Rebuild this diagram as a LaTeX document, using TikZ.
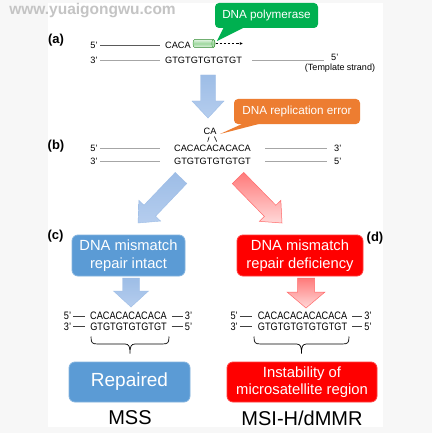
\documentclass[tikz,border=0pt]{standalone}
\usepackage{fontspec}
\setmainfont{Liberation Sans}
\newfontfamily\narrowsf[FakeStretch=0.85]{Liberation Sans}
\usetikzlibrary{calc,arrows.meta}
\definecolor{bgray}{HTML}{F7F7F7}
\definecolor{gboxc}{HTML}{00B050}
\definecolor{oboxc}{HTML}{ED7D31}
\definecolor{bboxc}{HTML}{5B9BD5}
\definecolor{rboxc}{HTML}{FF0000}
\definecolor{arrblueA}{HTML}{9DBDE6}
\definecolor{arrblueB}{HTML}{B5CDEE}
\definecolor{arrredA}{HTML}{FF7A7A}
\definecolor{arrredB}{HTML}{FFD8D8}
\definecolor{arrredE}{HTML}{FF6A6A}
\definecolor{strandA}{HTML}{5A5A5A}
\definecolor{strandB}{HTML}{A6A6A6}
\definecolor{strandC}{HTML}{404040}
\definecolor{cylA}{HTML}{E2F4E2}
\definecolor{cylB}{HTML}{9ED79E}
\definecolor{cylE}{HTML}{4CA64C}
\definecolor{wmark}{HTML}{C4C4C4}
% block arrow: #1 style, #2 start, #3 tip, #4 half shaft, #5 half head, #6 head length
\newcommand{\blockarr}[6]{%
  \path (#3) coordinate (ba-t) (#2) coordinate (ba-s);
  \path ($(ba-t)!#6!(ba-s)$) coordinate (ba-h);
  \draw[#1] ($(ba-s)!#4!90:(ba-t)$) -- ($(ba-h)!#4!-90:(ba-s)$) -- ($(ba-h)!#5!-90:(ba-s)$)
    -- (ba-t) -- ($(ba-h)!#5!90:(ba-s)$) -- ($(ba-h)!#4!90:(ba-s)$) -- ($(ba-s)!#4!-90:(ba-t)$) -- cycle;
}
% brace: #1 x left, #2 x right, #3 y top
\newcommand{\dnabrace}[3]{%
  \pgfmathsetmacro\bxm{(#1+#2)/2}%
  \draw[bracestyle] (#1,#3) .. controls (#1,#3+6.5) and (#1+1,#3+7.5) .. (#1+7,#3+7.5)
    -- (\bxm-5,#3+7.5) .. controls (\bxm-1,#3+7.5) and (\bxm,#3+10) .. (\bxm,#3+17)
    .. controls (\bxm,#3+10) and (\bxm+1,#3+7.5) .. (\bxm+5,#3+7.5)
    -- (#2-7,#3+7.5) .. controls (#2-1,#3+7.5) and (#2,#3+6.5) .. (#2,#3);
}
\tikzset{
  lbl/.style={font=\bfseries\fontsize{13}{15}\selectfont, inner sep=0pt},
  seq/.style={font=\fontsize{9.2}{11}\selectfont, inner sep=0pt, text height=6.6pt, text depth=0pt},
  seqn/.style={font=\narrowsf\fontsize{10.8}{12}\selectfont, inner sep=0pt, text height=7.8pt, text depth=0pt},
  strandline/.style={draw=strandB, line width=0.9pt},
  stranddark/.style={draw=strandA, line width=0.7pt},
  dashline/.style={draw=strandC, line width=0.7pt},
  bracestyle/.style={draw=black, line width=0.7pt},
  callbox/.style={rounded corners=4pt, inner sep=0pt, text=white, font=\fontsize{11.7}{14}\selectfont},
  bluebox/.style={rounded corners=6pt, fill=bboxc, draw=bboxc!75!white, line width=0.8pt, text=white, align=center, inner sep=0pt},
  redbox/.style={rounded corners=6pt, fill=rboxc, draw=rboxc!75!white, line width=0.8pt, text=white, align=center, inner sep=0pt},
  bluearr/.style={draw=arrblueA, line width=0.4pt, top color=arrblueA, bottom color=arrblueB},
  redarr/.style={draw=arrredE, line width=0.5pt, top color=arrredA, bottom color=arrredB},
  bigtxt/.style={font=\fontsize{20}{24}\selectfont, inner sep=0pt}
}
\begin{document}
\begin{tikzpicture}[x=1pt, y=-1pt]
\useasboundingbox (0,0) rectangle (432,433);
\fill[bgray] (0,0) rectangle (432,433);
\fill[white] (48,3) rectangle (383,427);
\node[font=\bfseries\fontsize{15.5}{18}\selectfont, text=wmark, inner sep=0pt] (wm) at (92.5,11) {www.yuaigongwu.com};

% ---------- (a)
\node[lbl] (la) at (56,40) {(a)};
\node[seq] (a5) at (94,45) {5’};
\node[seq, anchor=west] (acaca) at (165,45) {CACA};
\node[seq] (a3) at (94,60) {3’};
\node[seq, anchor=west] (agt) at (165,60) {GTGTGTGTGTGT};
\node[seq, anchor=west] (a5r) at (331,57) {5’};
\node[font=\fontsize{9}{11}\selectfont, inner sep=0pt] (tmpl) at (340,68.5) {(Template strand)};
\draw[stranddark, shorten <=2.5pt, shorten >=5pt] (a5) -- (acaca);
\draw[strandline, shorten <=2.5pt, shorten >=5pt] (a3) -- (agt);
\draw[strandline, shorten <=10pt, shorten >=7pt] (agt.east) -- (agt.east -| a5r.west);

% polymerase cylinder
\fill[top color=cylA, bottom color=cylA, middle color=cylB]
  (194.6,39.5) -- (213.4,39.5) arc[start angle=90, end angle=-90, x radius=1.6pt, y radius=4pt]
  -- (194.6,47.5) arc[start angle=270, end angle=90, x radius=1.6pt, y radius=4pt] -- cycle;
\draw[cylE, line width=0.5pt]
  (194.6,39.5) -- (213.4,39.5) arc[start angle=90, end angle=-90, x radius=1.6pt, y radius=4pt]
  -- (194.6,47.5) arc[start angle=270, end angle=90, x radius=1.6pt, y radius=4pt] -- cycle;
\draw[cylE, line width=0.5pt] (213.4,43.5) ellipse [x radius=1.6pt, y radius=4pt];
\coordinate (polyR) at (215.5,43.5);
\coordinate (polyTip) at (243,43.5);
\draw[black, line width=0.6pt, dash pattern=on 2.5pt off 1.6pt, -{Latex[length=3.2pt,width=2.8pt]}] (polyR) -- (polyTip);

% green callout
\coordinate (gtip) at (217,41);
\node[callbox, fill=gboxc, minimum width=103pt, minimum height=25pt] (gcall) at (266.5,15.5) {DNA polymerase};
\fill[gboxc] ($(gcall.south west)+(9,-1)$) -- (gtip) -- ($(gcall.south west)+(30,-1)$) -- cycle;

% arrow a -> b
\blockarr{bluearr}{208,75}{208,118}{7.5pt}{16pt}{17pt}

% ---------- (b)
\node[lbl] (lb) at (56,146) {(b)};
\node[seq] (b5) at (94,148) {5’};
\node[seq] (bca) at (212.5,148) {CACACACACACA};
\node[seq, anchor=west] (b3r) at (334,148) {3’};
\node[seq] (b3) at (94,161.5) {3’};
\node[seq] (bgt) at (212.5,161.5) {GTGTGTGTGTGT};
\node[seq, anchor=west] (b5r) at (334,161.5) {5’};
\draw[strandline, shorten <=2.5pt, shorten >=14pt] (b5) -- (bca);
\draw[strandline, shorten <=2.5pt, shorten >=14pt] (b3) -- (bgt);
\draw[strandline, shorten <=14pt, shorten >=7pt] (bca) -- (b3r);
\draw[strandline, shorten <=14pt, shorten >=7pt] (bgt) -- (b5r);
\node[seq] (bulge) at (210,131.5) {CA};
\draw[black, line width=0.6pt] (207.7,141.6) .. controls (207.9,139) .. (209.2,136.6);
\draw[black, line width=0.6pt] (214.4,136.6) .. controls (216,139) .. (216.7,141.6);

% orange callout
\coordinate (otip) at (220,134);
\node[callbox, fill=oboxc, minimum width=126pt, minimum height=25pt] (ocall) at (297,111.5) {DNA replication error};
\fill[oboxc] ($(ocall.south west)+(10,-1)$) -- (otip) -- ($(ocall.south west)+(28,-1)$) -- cycle;

% diagonal arrows
\blockarr{bluearr}{181,178}{138,223}{8pt}{15pt}{17pt}
\blockarr{redarr}{238,178}{282,223}{8pt}{15pt}{17pt}

% ---------- (c)
\node[lbl] (lc) at (55.5,236.5) {(c)};
\node[bluebox, minimum width=113pt, minimum height=41pt, font=\fontsize{14.7}{17.7}\selectfont] (cbox) at (128.5,255.5) {DNA mismatch\\repair intact};
\blockarr{bluearr}{131,278}{131,307}{8.5pt}{17.5pt}{16pt}
\node[seqn] (c5) at (67.5,316) {5’};
\node[seqn] (cca) at (128.5,316) {CACACACACACA};
\node[seqn] (c3r) at (188.5,316) {3’};
\node[seqn] (c3) at (67.5,326.5) {3’};
\node[seqn] (cgt) at (128.5,326.5) {GTGTGTGTGTGT};
\node[seqn] (c5r) at (188.5,326.5) {5’};
\draw[dashline, shorten <=1.8pt, shorten >=5.3pt] (c5) -- (cca);
\draw[dashline, shorten <=1.8pt, shorten >=5.3pt] (c3) -- (cgt);
\draw[dashline, shorten <=4.8pt, shorten >=2pt] (cca) -- (c3r);
\draw[dashline, shorten <=4.8pt, shorten >=2pt] (cgt) -- (c5r);
\dnabrace{91}{169}{336.5}
\node[bluebox, minimum width=121pt, minimum height=40pt, font=\fontsize{19}{22}\selectfont] (rep) at (129.5,382) {Repaired};
\node[bigtxt] (mss) at (130,418) {MSS};

% ---------- (d)
\node[lbl] (ld) at (375,238) {(d)};
\node[redbox, minimum width=126pt, minimum height=41pt, font=\fontsize{14.7}{17.7}\selectfont] (dbox) at (300,255.5) {DNA mismatch\\repair deficiency};
\blockarr{redarr}{306,278}{306,308}{8.5pt}{19pt}{16pt}
\node[seqn] (d5) at (234.2,316) {5’};
\node[seqn] (dca) at (302.5,316) {CACACACACACACA};
\node[seqn] (d3r) at (368,316) {3’};
\node[seqn] (d3) at (234.2,326.5) {3’};
\node[seqn] (dgt) at (302.5,326.5) {GTGTGTGTGTGTGT};
\node[seqn] (d5r) at (368,326.5) {5’};
\draw[dashline, shorten <=1.8pt, shorten >=5.3pt] (d5) -- (dca);
\draw[dashline, shorten <=1.8pt, shorten >=5.3pt] (d3) -- (dgt);
\draw[dashline, shorten <=4.8pt, shorten >=2pt] (dca) -- (d3r);
\draw[dashline, shorten <=4.8pt, shorten >=2pt] (dgt) -- (d5r);
\dnabrace{254}{349}{336.5}
\node[redbox, minimum width=150pt, minimum height=40pt, font=\fontsize{14.8}{17}\selectfont] (inst) at (302,382) {Instability of\\microsatellite region};
\node[bigtxt] (msi) at (302,418) {MSI-H/dMMR};
\end{tikzpicture}
\end{document}
